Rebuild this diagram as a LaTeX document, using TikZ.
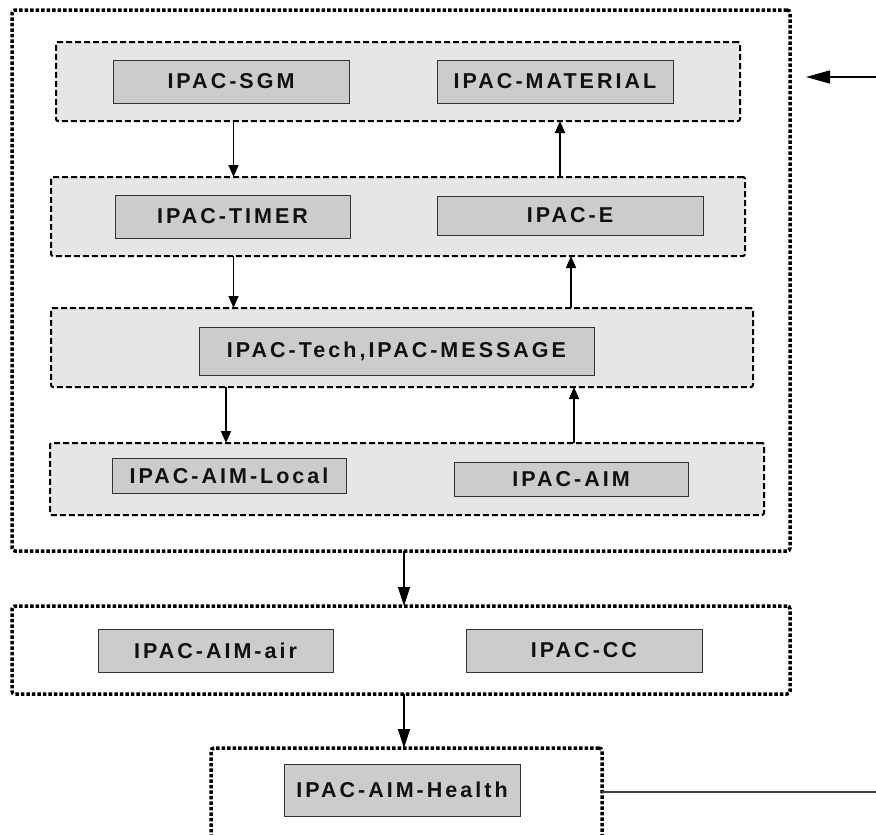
\documentclass[tikz,border=0pt]{standalone}
\usepackage{fontspec}
\newfontfamily\labfont[LetterSpace=14]{Liberation Sans}
\usetikzlibrary{arrows.meta}
\definecolor{layergray}{HTML}{E6E6E6}
\definecolor{boxgray}{HTML}{CCCCCC}
\definecolor{boxline}{HTML}{333333}
\definecolor{wireline}{HTML}{404040}
\definecolor{labtext}{HTML}{111111}
\tikzset{
  layerbox/.style={draw=black, line width=2pt, dash pattern=on 6pt off 3pt, fill=layergray, rounded corners=2pt, inner sep=0pt, outer sep=0pt},
  outerbox/.style={draw=black, line width=3.5pt, dash pattern=on 3.5pt off 2pt, rounded corners=3pt, inner sep=0pt, outer sep=0pt},
  module/.style={draw=boxline, line width=1pt, fill=boxgray, inner sep=0pt, outer sep=0pt, font=\labfont\bfseries\fontsize{21.5}{25}\selectfont, text=labtext},
  smallarr/.style={line width=1.4pt, -{Triangle[length=12pt,width=10pt]}},
  bigarr/.style={line width=1.4pt, -{Triangle[length=19pt,width=12pt]}},
}
\begin{document}
\begin{tikzpicture}[x=1pt,y=-1pt]
\useasboundingbox (0,0) rectangle (876,835);
\clip (0,0) rectangle (876,835);
% outer container
\node[outerbox, minimum width=778pt, minimum height=541pt] (outer) at (401,280.5) {};
% layers
\node[layerbox, minimum width=684pt, minimum height=79pt] (layer1) at (398,81.5) {};
\node[layerbox, minimum width=694pt, minimum height=79pt] (layer2) at (398,216.5) {};
\node[layerbox, minimum width=702pt, minimum height=79pt] (layer3) at (402,347.5) {};
\node[layerbox, minimum width=714pt, minimum height=72pt] (layer4) at (407,479) {};
% modules
\node[module, minimum width=236pt, minimum height=43pt] (sgm) at (231,81.5) {IPAC-SGM};
\node[module, minimum width=236pt, minimum height=43pt] (material) at (555,81.5) {IPAC-MATERIAL};
\node[module, minimum width=235pt, minimum height=43pt] (timer) at (232.5,216.5) {IPAC-TIMER};
\node[module, minimum width=266pt, minimum height=39pt] (ipace) at (570,215.5) {IPAC-E};
\node[module, minimum width=395pt, minimum height=48pt] (tech) at (396.5,351) {IPAC-Tech,IPAC-MESSAGE};
\node[module, minimum width=234pt, minimum height=35pt] (local) at (229,475.5) {IPAC-AIM-Local};
\node[module, minimum width=234pt, minimum height=34pt] (aim) at (571,479) {IPAC-AIM};
% second container
\node[outerbox, minimum width=778pt, minimum height=88pt] (box2) at (401,650) {};
\node[module, minimum width=235pt, minimum height=43pt] (air) at (215.5,650.5) {IPAC-AIM-air};
\node[module, minimum width=236pt, minimum height=43pt] (cc) at (584,650.5) {IPAC-CC};
% third container (cut off at bottom)
\node[outerbox, minimum width=391pt, minimum height=122pt] (box3) at (406.5,809) {};
\node[module, minimum width=236pt, minimum height=52pt] (health) at (402,790) {IPAC-AIM-Health};
% arrows between layers
\draw[smallarr] (233.5,0 |- layer1.south) -- (233.5,0 |- layer2.north);
\draw[smallarr] (560,0 |- layer2.north) -- (560,0 |- layer1.south);
\draw[smallarr] (233.5,0 |- layer2.south) -- (233.5,0 |- layer3.north);
\draw[smallarr] (571,0 |- layer3.north) -- (571,0 |- layer2.south);
\draw[smallarr] (226,0 |- layer3.south) -- (226,0 |- layer4.north);
\draw[smallarr] (574,0 |- layer4.north) -- (574,0 |- layer3.south);
\draw[bigarr] (404,0 |- outer.south) -- (404,0 |- box2.north);
\draw[bigarr] (404,0 |- box2.south) -- (404,0 |- box3.north);
% external connectors
\coordinate (instart) at (876,77);
\coordinate (intip) at (806,77);
\draw[line width=1.4pt, -{Triangle[length=24pt,width=13pt]}] (instart) -- (intip);
\coordinate (outend) at (876,792);
\draw[draw=wireline, line width=2pt] (box3.east |- outend) -- (outend);
\end{tikzpicture}
\end{document}
